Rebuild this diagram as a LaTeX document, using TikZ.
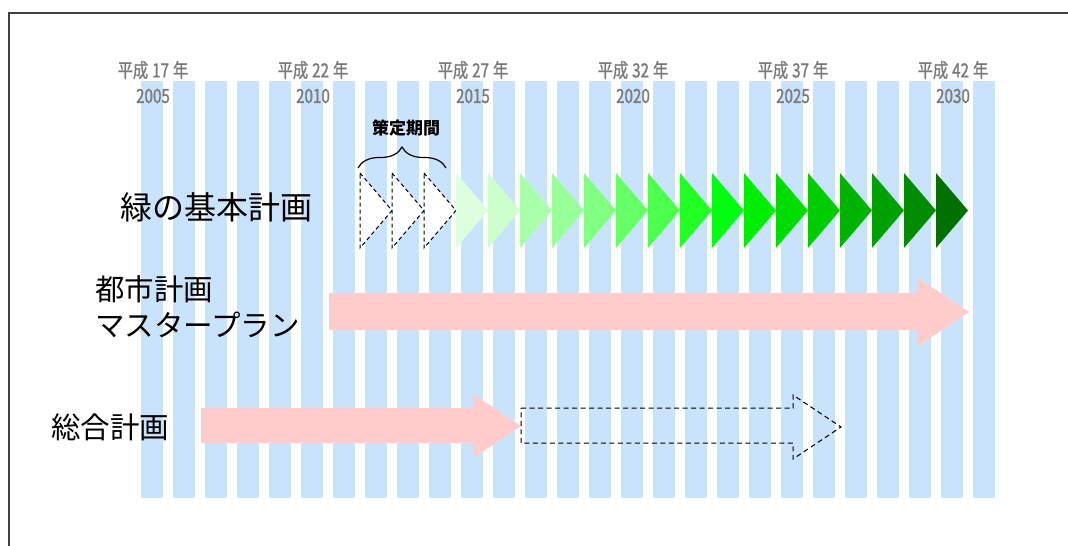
\documentclass[tikz,border=0pt]{standalone}
\usepackage{fontspec}
\newfontfamily\jp{Noto Sans CJK JP}
\newfontfamily\jpn{Noto Sans CJK JP}[FakeStretch=0.78, FakeBold=1.2]
\usetikzlibrary{decorations.pathreplacing}
\definecolor{stripe}{HTML}{CAE3FD}
\definecolor{pinkar}{HTML}{FFCCCC}
\definecolor{yeargray}{HTML}{7A7A7A}
\definecolor{framec}{HTML}{404040}
\tikzset{
  yearlbl/.style={text=yeargray, inner sep=0, font=\jpn\fontsize{19.5}{19.5}\selectfont},
  bigjp/.style={inner sep=0, anchor=west, font=\jp\fontsize{29.5}{29.5}\selectfont},
  dashtri/.style={draw=black, dash pattern=on 4pt off 3pt, line width=1pt, fill=white},
  dasharrow/.style={draw=black, dash pattern=on 5pt off 3.5pt, line width=1pt},
  stripebar/.style={fill=stripe},
}
\begin{document}
\begin{tikzpicture}[x=1pt,y=-1pt]
\useasboundingbox (0,0) rectangle (1068,546);
% frame (only top and left visible)
\draw[framec, line width=1.5pt] (9,560) -- (9,13) -- (1080,13);
% stripes
\foreach \k in {0,...,26}{
  \fill[stripebar] ({141+32*\k},81) rectangle ({163+32*\k},498);
}
% year labels
\foreach \h/\y [count=\i from 0] in {17/2005,22/2010,27/2015,32/2020,37/2025,42/2030}{
  \node[yearlbl] (h\i) at ({153+160*\i},70) {平成\hspace{4pt}\h\hspace{4pt}年};
  \node[yearlbl] (y\i) at ({153+160*\i},96) {\y};
}
% dashed triangles
\foreach \j in {0,1,2}{
  \draw[dashtri] ({360+32*\j},173) -- ({392+32*\j},210.5) -- ({360+32*\j},248) -- cycle;
}
% green triangles
\foreach \c [count=\j from 0] in {DDFFDD,CCFFCC,AAFFAA,99FF99,80FF80,66FF66,4DFF4D,22FF22,00FF11,00EE00,00DD00,00CC00,00B300,00A000,008C00,007000}{
  \definecolor{gtri}{HTML}{\c}
  \fill[gtri] ({456+32*\j},173) -- ({488+32*\j},210.5) -- ({456+32*\j},248) -- cycle;
}
% brace and label
\coordinate (bl) at (358,168);
\coordinate (br) at (446,168);
\draw[line width=1.2pt, decorate, decoration={brace, amplitude=21pt}] (bl) -- (br);
\node[inner sep=0, font=\jp\bfseries\fontsize{17}{17}\selectfont] (sakutei) at (406,128) {策定期間};
% labels
\node[bigjp, font=\jp\fontsize{32}{32}\selectfont] (midori) at (120,207) {緑の基本計画};
\node[bigjp] (toshi1) at (95,289) {都市計画};
\node[bigjp] (toshi2) at (95,325) {マスタープラン};
\node[bigjp] (sogo) at (51,427) {総合計画};
% pink arrows
\fill[pinkar] (329,293) -- (918,293) -- (918,278) -- (969,312) -- (918,346) -- (918,330) -- (329,330) -- cycle;
\fill[pinkar] (201,408) -- (473,408) -- (473,394) -- (521,426) -- (473,458) -- (473,443) -- (201,443) -- cycle;
% dashed arrow
\draw[dasharrow] (521,408) -- (793,408) -- (793,395) -- (841,427) -- (793,459) -- (793,443) -- (521,443) -- cycle;
\end{tikzpicture}
\end{document}
